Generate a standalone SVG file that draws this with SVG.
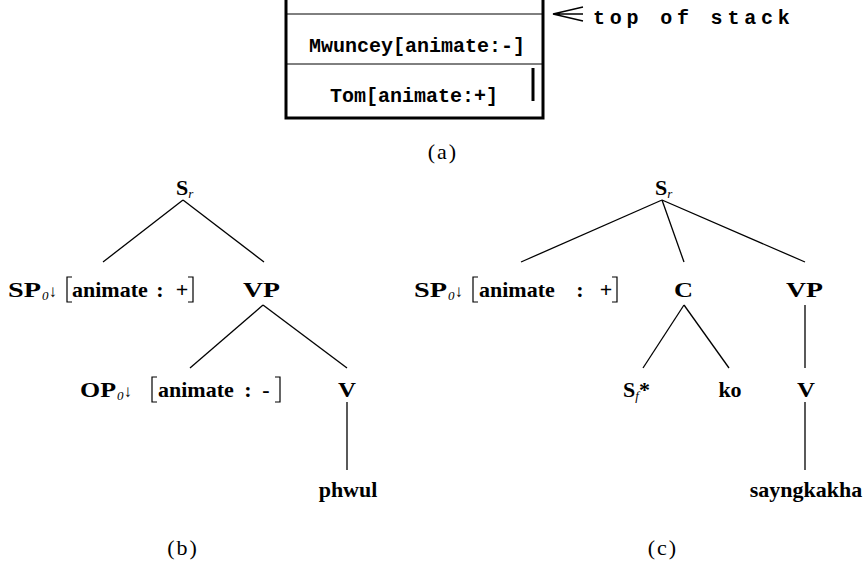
<svg xmlns="http://www.w3.org/2000/svg" width="866" height="582" viewBox="0 0 866 582">
<style>
.mono{font-family:"Liberation Mono","Courier New",monospace;font-weight:bold;font-size:20px;fill:#000}
.t{font-family:"Liberation Serif","Times New Roman",serif;font-weight:bold;font-size:22px;fill:#000}
.sub{font-style:italic;font-weight:normal;font-size:13px}
.arr{font-weight:normal;font-size:17px}
.lab{font-family:"Liberation Serif","Times New Roman",serif;font-size:22px;fill:#000;letter-spacing:2px}
.e{stroke:#000;stroke-width:1.3;fill:none}
.thick{stroke:#000;stroke-width:3;fill:none}
.thin{stroke:#000;stroke-width:1;fill:none}
.br{stroke:#000;stroke-width:1.2;fill:none}
</style>
<rect width="866" height="582" fill="#fff"/>
<g id="stack">
<path class="thick" d="M286,0 V118 H543 V0"/>
<line class="thin" x1="286" y1="14" x2="543" y2="14" stroke="#333"/>
<line class="thin" x1="286" y1="64" x2="543" y2="64"/>
<line class="thick" x1="533" y1="68" x2="533" y2="101"/>
<text class="mono" x="417" y="52" text-anchor="middle">Mwuncey[animate:-]</text>
<text class="mono" x="414" y="102" text-anchor="middle">Tom[animate:+]</text>
</g>
<g id="top-label">
<path class="e" d="M583,7 L553,14 L583,21 M553,14 H583" stroke-width="2"/>
<text class="mono" x="593" y="24" font-size="22" letter-spacing="4.8">top of stack</text>
</g>
<text class="lab" x="443" y="159" text-anchor="middle">(a)</text>
<g id="connectors">
<line class="e" x1="183" y1="200" x2="103" y2="262"/>
<line class="e" x1="183" y1="200" x2="264" y2="262"/>
<line class="e" x1="263" y1="305" x2="190" y2="368"/>
<line class="e" x1="263" y1="305" x2="347" y2="368"/>
<line class="e" x1="347" y1="402" x2="347" y2="470"/>
<line class="e" x1="662" y1="200" x2="521" y2="262"/>
<line class="e" x1="662" y1="200" x2="684" y2="262"/>
<line class="e" x1="662" y1="200" x2="805" y2="262"/>
<line class="e" x1="684" y1="305" x2="643" y2="368"/>
<line class="e" x1="684" y1="305" x2="729" y2="368"/>
<line class="e" x1="805" y1="305" x2="805" y2="368"/>
<line class="e" x1="805" y1="402" x2="805" y2="470"/>
</g>
<g id="b-Sr"><text class="t" x="176" y="195">S<tspan class="sub" dy="3">r</tspan></text></g>
<g id="b-SP"><text class="t" x="8" y="297" textLength="33" lengthAdjust="spacingAndGlyphs">SP</text><text class="t" x="42" y="297"><tspan class="sub" dy="3">0</tspan><tspan class="arr" dy="-3">↓</tspan></text>
<path class="br" d="M72,277 H67 V302 H72 M188,277 H193 V302 H188"/>
<text class="t" x="72" y="297">animate</text><text class="t" x="160" y="297" text-anchor="middle">:</text><text class="t" x="182" y="297" text-anchor="middle">+</text></g>
<g id="b-VP"><text class="t" x="243" y="297" textLength="37" lengthAdjust="spacingAndGlyphs">VP</text></g>
<g id="b-OP"><text class="t" x="80" y="397" textLength="36" lengthAdjust="spacingAndGlyphs">OP</text><text class="t" x="117" y="397"><tspan class="sub" dy="3">0</tspan><tspan class="arr" dy="-3">↓</tspan></text>
<path class="br" d="M157,377 H152 V402 H157 M275,377 H280 V402 H275"/>
<text class="t" x="158" y="397">animate</text><text class="t" x="248" y="397" text-anchor="middle">:</text><text class="t" x="266" y="397" text-anchor="middle">-</text></g>
<g id="b-V"><text class="t" x="338" y="397" textLength="18" lengthAdjust="spacingAndGlyphs">V</text></g>
<g id="b-phwul"><text class="t" x="348" y="497" text-anchor="middle">phwul</text></g>
<text class="lab" x="183" y="555" text-anchor="middle">(b)</text>
<g id="c-Sr"><text class="t" x="655" y="195">S<tspan class="sub" dy="3">r</tspan></text></g>
<g id="c-SP"><text class="t" x="414" y="297" textLength="33" lengthAdjust="spacingAndGlyphs">SP</text><text class="t" x="448" y="297"><tspan class="sub" dy="3">0</tspan><tspan class="arr" dy="-3">↓</tspan></text>
<path class="br" d="M478,277 H473 V302 H478 M612,277 H617 V302 H612"/>
<text class="t" x="479" y="297">animate</text><text class="t" x="580" y="297" text-anchor="middle">:</text><text class="t" x="606" y="297" text-anchor="middle">+</text></g>
<g id="c-C"><text class="t" x="674" y="297" textLength="19" lengthAdjust="spacingAndGlyphs">C</text></g>
<g id="c-VP"><text class="t" x="786" y="297" textLength="37" lengthAdjust="spacingAndGlyphs">VP</text></g>
<g id="c-Sf"><text class="t" x="623" y="397">S<tspan class="sub" dy="3">f</tspan><tspan dy="-3">*</tspan></text></g>
<g id="c-ko"><text class="t" x="730" y="397" text-anchor="middle">ko</text></g>
<g id="c-V"><text class="t" x="797" y="397" textLength="18" lengthAdjust="spacingAndGlyphs">V</text></g>
<g id="c-say"><text class="t" x="806" y="497" text-anchor="middle">sayngkakha</text></g>
<text class="lab" x="663" y="555" text-anchor="middle">(c)</text>
</svg>
